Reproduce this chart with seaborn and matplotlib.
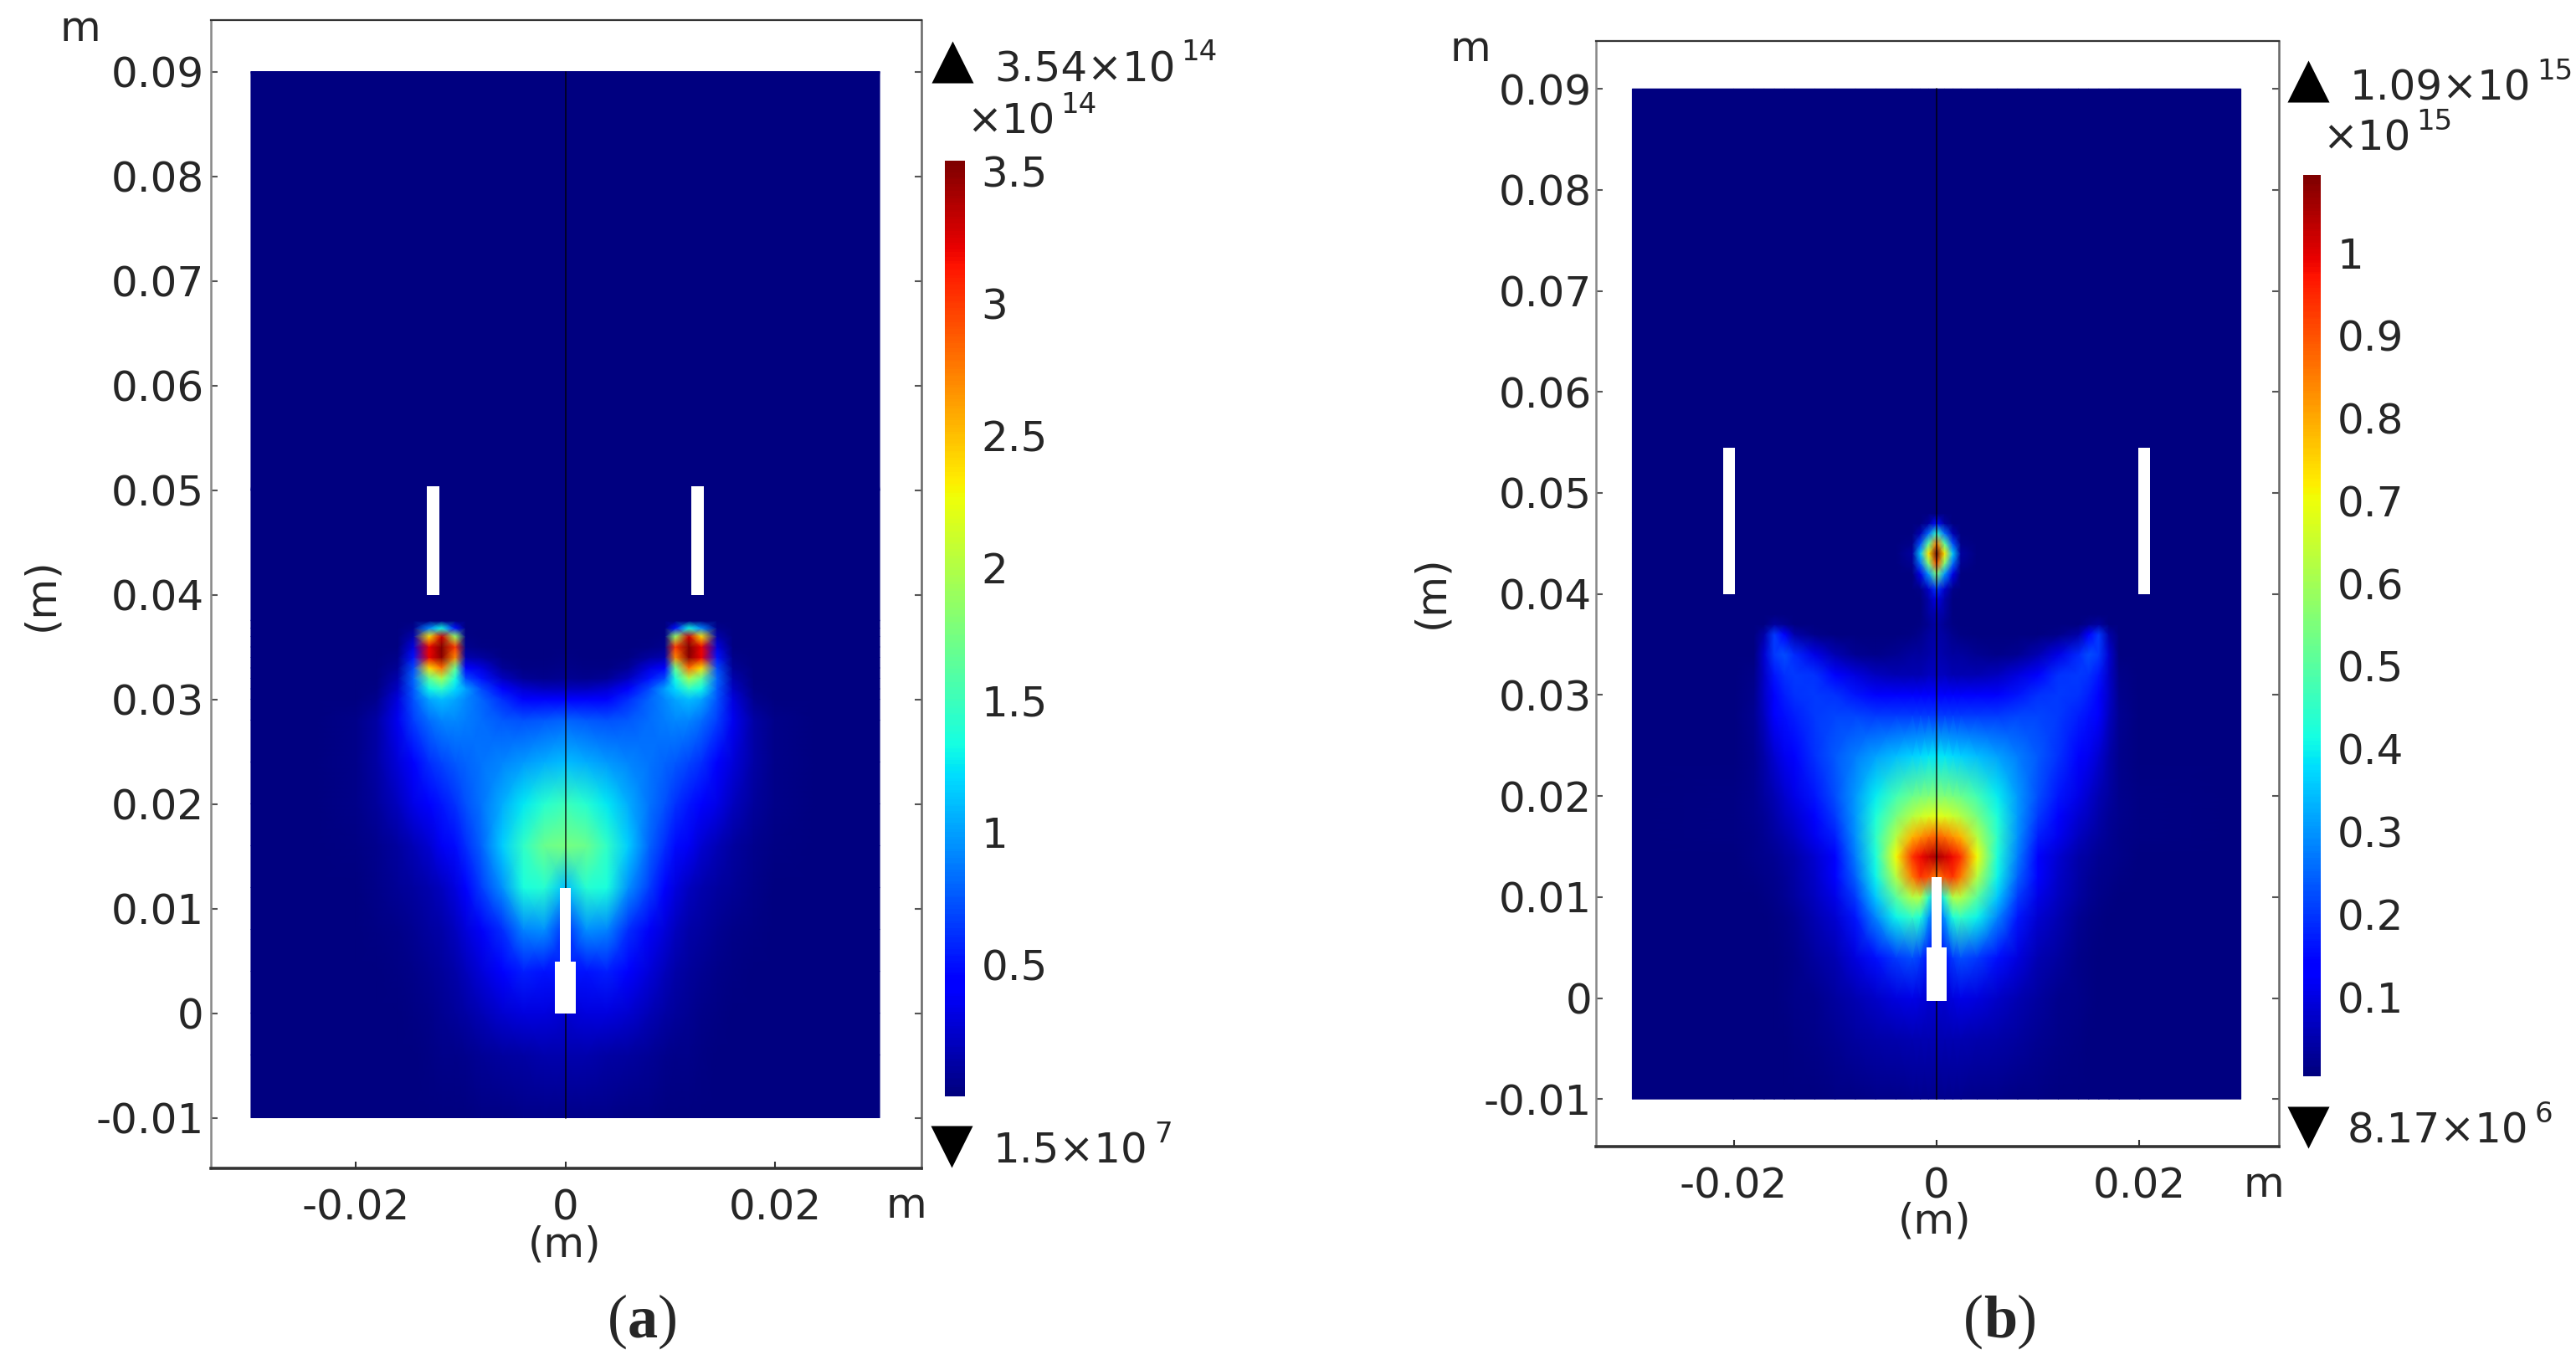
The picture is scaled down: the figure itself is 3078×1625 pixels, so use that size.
import numpy as np
import matplotlib
matplotlib.use("Agg")
import matplotlib.pyplot as plt
from matplotlib.patches import Rectangle
import seaborn as sns

W, H = 3078, 1625

# half-domain samples (the field is mirrored about x=0)
x_a = [0, .002, .004, .006, .008, .0095, .0105, .0118, .013, .0145, .016, .018, .020, .024, .03]
y_a = [-.01, -.004, 0, .004, .008, .012, .016, .02, .024, .028, .03, .031, .032, .033, .034,
       .035, .036, .0368, .0375, .05, .09]
# units of 1e14
field_a = [
    [.03, .03, .03, .02, .02, .01, .01, .01, .0, .0, .0, 0, 0, 0, 0],
    [.15, .14, .12, .10, .07, .05, .04, .03, .02, .01, 0, 0, 0, 0, 0],
    [.25, .30, .30, .25, .17, .12, .09, .06, .04, .02, .01, 0, 0, 0, 0],
    [.50, .50, .55, .42, .28, .18, .13, .09, .06, .04, .02, .01, 0, 0, 0],
    [.60, .95, .90, .60, .38, .28, .20, .13, .10, .06, .04, .02, 0, 0, 0],
    [1.10, 1.40, 1.35, .95, .65, .42, .30, .20, .15, .10, .07, .03, .01, 0, 0],
    [1.75, 1.70, 1.45, 1.15, .80, .60, .48, .36, .26, .17, .11, .05, .02, 0, 0],
    [1.50, 1.40, 1.25, 1.05, .85, .72, .62, .52, .42, .32, .20, .09, .04, .01, 0],
    [1.10, 1.05, .98, .90, .85, .80, .75, .68, .60, .42, .28, .12, .04, 0, 0],
    [.80, .75, .72, .75, .82, .88, .92, .90, .82, .65, .35, .12, .03, 0, 0],
    [.40, .40, .45, .60, .80, .92, 1.02, 1.10, 1.02, .72, .30, .05, 0, 0, 0],
    [.20, .20, .25, .40, .70, 1.00, 1.20, 1.45, 1.30, .75, .22, .02, 0, 0, 0],
    [.06, .05, .08, .20, .50, .70, 1.35, 1.95, 1.65, .80, .14, 0, 0, 0, 0],
    [.03, .02, .02, .08, .30, .40, 1.70, 2.80, 2.40, .70, .07, 0, 0, 0, 0],
    [.02, .01, .01, .02, .10, .15, 2.70, 3.50, 3.20, .50, .03, 0, 0, 0, 0],
    [.01, 0, 0, 0, .02, .05, 3.00, 3.54, 3.20, .30, 0, 0, 0, 0, 0],
    [0, 0, 0, 0, 0, .02, 1.90, 3.30, 2.40, .15, 0, 0, 0, 0, 0],
    [0, 0, 0, 0, 0, .01, .50, 1.30, .90, .05, 0, 0, 0, 0, 0],
    [0, 0, 0, 0, 0, 0, 0, 0, 0, 0, 0, 0, 0, 0, 0],
    [0, 0, 0, 0, 0, 0, 0, 0, 0, 0, 0, 0, 0, 0, 0],
    [0, 0, 0, 0, 0, 0, 0, 0, 0, 0, 0, 0, 0, 0, 0],
]

x_b = [0, .0008, .0016, .0024, .004, .006, .008, .01, .012, .014, .015, .016, .017, .018, .02, .03]
y_b = [-.01, -.004, 0, .004, .008, .01, .012, .014, .016, .018, .02, .024, .028, .03, .032, .034,
       .036, .037, .038, .0395, .0405, .042, .043, .044, .045, .046, .047, .048, .09]
# units of 1e15
field_b = [
    [.015, .015, .015, .015, .012, .01, .008, .005, .003, .001, 0, 0, 0, 0, 0, 0],
    [.05, .05, .05, .05, .045, .04, .03, .02, .01, .005, 0, 0, 0, 0, 0, 0],
    [.08, .08, .09, .10, .09, .07, .05, .03, .015, .01, .005, 0, 0, 0, 0, 0],
    [.10, .15, .20, .22, .20, .15, .09, .05, .03, .01, .005, 0, 0, 0, 0, 0],
    [.20, .30, .42, .45, .40, .28, .16, .08, .05, .02, .01, .005, 0, 0, 0, 0],
    [.30, .45, .62, .62, .50, .35, .20, .10, .06, .03, .02, .01, .005, 0, 0, 0],
    [.85, .90, .93, .85, .62, .40, .24, .12, .07, .035, .025, .015, .01, .005, 0, 0],
    [1.05, 1.02, .98, .93, .70, .42, .27, .13, .08, .04, .03, .02, .015, .01, 0, 0],
    [.88, .86, .82, .78, .62, .44, .29, .17, .11, .06, .045, .03, .02, .012, .005, 0],
    [.68, .67, .65, .62, .54, .42, .30, .20, .14, .08, .06, .04, .025, .015, .005, 0],
    [.55, .55, .54, .52, .47, .39, .30, .22, .16, .10, .075, .05, .03, .015, .005, 0],
    [.38, .38, .37, .36, .34, .31, .27, .23, .19, .14, .11, .08, .04, .015, .003, 0],
    [.20, .20, .20, .20, .20, .20, .21, .21, .20, .17, .15, .12, .06, .02, 0, 0],
    [.13, .13, .13, .13, .13, .14, .16, .19, .20, .19, .17, .14, .07, .015, 0, 0],
    [.06, .06, .05, .05, .05, .06, .09, .14, .19, .20, .19, .16, .07, .01, 0, 0],
    [.05, .04, .03, .03, .02, .01, .02, .05, .10, .18, .22, .20, .08, 0, 0, 0],
    [.04, .03, .015, .005, 0, 0, 0, 0, .01, .04, .12, .20, .04, 0, 0, 0],
    [.04, .02, .005, 0, 0, 0, 0, 0, 0, 0, .02, .03, 0, 0, 0, 0],
    [.05, .03, 0, 0, 0, 0, 0, 0, 0, 0, 0, 0, 0, 0, 0, 0],
    [.10, .04, 0, 0, 0, 0, 0, 0, 0, 0, 0, 0, 0, 0, 0, 0],
    [.20, .07, .01, 0, 0, 0, 0, 0, 0, 0, 0, 0, 0, 0, 0, 0],
    [.55, .30, .10, 0, 0, 0, 0, 0, 0, 0, 0, 0, 0, 0, 0, 0],
    [.90, .55, .25, .02, 0, 0, 0, 0, 0, 0, 0, 0, 0, 0, 0, 0],
    [1.09, .72, .35, .03, 0, 0, 0, 0, 0, 0, 0, 0, 0, 0, 0, 0],
    [.85, .50, .22, .01, 0, 0, 0, 0, 0, 0, 0, 0, 0, 0, 0, 0],
    [.45, .25, .05, 0, 0, 0, 0, 0, 0, 0, 0, 0, 0, 0, 0, 0],
    [.15, .03, 0, 0, 0, 0, 0, 0, 0, 0, 0, 0, 0, 0, 0, 0],
    [0, 0, 0, 0, 0, 0, 0, 0, 0, 0, 0, 0, 0, 0, 0, 0],
    [0, 0, 0, 0, 0, 0, 0, 0, 0, 0, 0, 0, 0, 0, 0, 0],
]

# electrode and sheet outlines on the positive side: half width / x range, y range
tip_a = (.0005, .0049, .012)
base_a = (.001, 0, .0049)
sheet_a = (.012, .0132, .04, .0504)
tip_b = (.0005, .005, .012)
base_b = (.001, -.0003, .005)
sheet_b = (.0199, .021, .04, .0545)

x_ticks_m = [-.02, 0, .02]
x_labels = ['-0.02', '0', '0.02']
y_ticks_m = [-.01, 0, .01, .02, .03, .04, .05, .06, .07, .08, .09]
y_labels = ['-0.01', '0', '0.01', '0.02', '0.03', '0.04', '0.05', '0.06', '0.07', '0.08', '0.09']

cbar_ticks_a = [.5, 1, 1.5, 2, 2.5, 3, 3.5]
cbar_labels_a = ['0.5', '1', '1.5', '2', '2.5', '3', '3.5']
cbar_ticks_b = [.1, .2, .3, .4, .5, .6, .7, .8, .9, 1]
cbar_labels_b = ['0.1', '0.2', '0.3', '0.4', '0.5', '0.6', '0.7', '0.8', '0.9', '1']

sns.set_theme(style="white")
plt.rcParams['font.family'] = ['DejaVu Sans']
plt.rcParams['axes.unicode_minus'] = False
jet = plt.get_cmap('jet')
FS = 36

fig = plt.figure(figsize=(W / 100, H / 100), dpi=100)


def px_axes(left, top, right, bottom):
    return fig.add_axes([left / W, 1 - bottom / H, (right - left) / W, (bottom - top) / H])


def draw_panel(box, x0, y0, sx, sy, xs, ys, field, tip, base, sheet, vmax, ypad):
    left, top, right, bottom = box
    ax = px_axes(*box)
    xs = np.array(xs)
    z = np.array(field)
    full_x = np.concatenate([-xs[:0:-1], xs])
    full_z = np.hstack([z[:, :0:-1], z])
    ax.pcolormesh(full_x, ys, full_z, shading='gouraud', cmap=jet, vmin=0, vmax=vmax)
    ax.plot([0, 0], [ys[0], ys[-1]], color='black', lw=1.3, alpha=.75)
    for hw, y1, y2 in (tip, base):
        ax.add_patch(Rectangle((-hw, y1), 2 * hw, y2 - y1, color='white', lw=0, zorder=3))
    x1, x2, y1, y2 = sheet
    for a, b in ((x1, x2), (-x2, -x1)):
        ax.add_patch(Rectangle((a, y1), b - a, y2 - y1, color='white', lw=0, zorder=3))
    ax.set_xlim((left - x0) / sx, (right - x0) / sx)
    ax.set_ylim((y0 - bottom) / sy, (y0 - top) / sy)
    ax.set_xticks(x_ticks_m, x_labels)
    ax.set_yticks(y_ticks_m, y_labels)
    ax.tick_params(axis='y', direction='in', left=True, right=True, length=6, width=1.5,
                   color='#555555', labelsize=FS, pad=ypad)
    ax.tick_params(axis='x', direction='in', bottom=True, length=6, width=1.5,
                   color='#333333', labelsize=FS, pad=17)
    for name, c, lw in (('top', '#333333', 1.6), ('bottom', '#333333', 2.6),
                        ('left', '#888888', 1.8), ('right', '#666666', 1.8)):
        ax.spines[name].set_visible(True)
        ax.spines[name].set_color(c)
        ax.spines[name].set_linewidth(lw)
    return ax


def draw_strip(box, vmax, ticks, labels, nudge):
    cax = px_axes(*box)
    strip = np.linspace(vmax, 0, 400)[:, None]
    sns.heatmap(strip, ax=cax, cmap=jet, vmin=0, vmax=vmax, cbar=False,
                xticklabels=False, yticklabels=False)
    rows_per_px = 400 / (box[3] - box[1])
    cax.set_yticks([(vmax - t) / vmax * 400 + nudge * rows_per_px for t in ticks], labels, rotation=0)
    cax.tick_params(axis='y', left=False, right=False, labelleft=False, labelright=True,
                    labelsize=FS, pad=8)


draw_panel((252, 24, 1101, 1396), 675.5, 1210.5, 12520, 12500, x_a, y_a, field_a,
           tip_a, base_a, sheet_a, 3.54, 6)
draw_panel((1907, 49, 2723, 1370), 2314, 1192.5, 12120, 12070, x_b, y_b, field_b,
           tip_b, base_b, sheet_b, 1.09, 3.5)
draw_strip((1129, 192, 1153, 1310), 3.54, cbar_ticks_a, cbar_labels_a, 0)
draw_strip((2752, 209, 2773, 1286), 1.09, cbar_ticks_b, cbar_labels_b, 4)

# everything outside the axes goes on a pixel overlay
over = fig.add_axes([0, 0, 1, 1], facecolor='none')
over.set_xlim(0, W)
over.set_ylim(H, 0)
over.axis('off')


def label(x, y, s, **kw):
    kw.setdefault('fontsize', FS)
    return over.text(x, y, s, **kw)


def sci(x, y, main, power):
    # exponent as its own text, the plain mathtext one sits too low and too tight
    t = label(x, y, main, va='baseline')
    right = t.get_window_extent(fig.canvas.get_renderer()).x1
    label(right + 7, y - 25, power, va='baseline', fontsize=24.5)


over.scatter([1138, 2758], [74, 97], marker='^', s=1300, color='black', lw=0)
over.scatter([1137, 2758], [1370, 1347], marker='v', s=1300, color='black', lw=0)

sci(1188, 97, '3.54×10', '14')
sci(1155, 160, '×10', '14')
sci(1187, 1390, '1.5×10', '7')
sci(2808, 120, '1.09×10', '15')
sci(2775, 180, '×10', '15')
sci(2805, 1366, '8.17×10', '6')

label(96, 35, 'm', ha='center', va='center')
label(1083, 1441, 'm', ha='center', va='center')
label(675, 1488, '(m)', ha='center', va='center')
label(49, 710, '(m)', ha='center', va='center', rotation=90)
label(1757, 59, 'm', ha='center', va='center')
label(2705, 1416, 'm', ha='center', va='center')
label(2312, 1460, '(m)', ha='center', va='center')
label(1710, 707, '(m)', ha='center', va='center', rotation=90)

serif = dict(family='Liberation Serif', fontsize=52, va='baseline')
label(726, 1597, '(', **serif)
label(750, 1597, 'a', fontweight='bold', **serif)
label(786, 1597, ')', **serif)
label(2346, 1597, '(', **serif)
label(2370, 1597, 'b', fontweight='bold', **serif)
label(2410, 1597, ')', **serif)

fig.savefig('out.png', dpi=100)
